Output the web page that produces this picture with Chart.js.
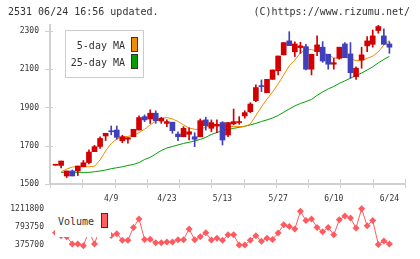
<!DOCTYPE html>
<html>
<head>
<meta charset="utf-8">
<script src="https://cdn.jsdelivr.net/npm/chart.js@4/dist/chart.umd.min.js"></script>
<style>
  body { margin: 0; background: #fff; }
  #wrap { position: relative; width: 420px; height: 259px; font-family: 'DejaVu Sans Mono', monospace; color: #333; }
  canvas { position: absolute; left: 0; top: 0; }
  .t { position: absolute; font-size: 10px; line-height: 12px; white-space: pre; }
  .sw { position: absolute; box-sizing: border-box; border: 1px solid #333; width: 7px; height: 15px; }
  .box { position: absolute; background: #fff; box-sizing: border-box; }
</style>
</head>
<body>
<div id="wrap">
  <canvas id="price" width="420" height="259"></canvas>
  <canvas id="volume" width="420" height="259"></canvas>

  <div class="t" style="left:8px;top:6px;">2531 06/24 16:56 updated.</div>
  <div class="t" style="right:10px;top:6px;">(C)https://www.rizumu.net/</div>

  <div class="box" style="left:65px;top:30px;width:79px;height:48px;border:1px solid #ccc;"></div>
  <div class="t" style="left:40px;width:85px;text-align:right;top:40px;">5-day MA</div>
  <div class="sw" style="left:131px;top:37px;background:#f08c00;"></div>
  <div class="t" style="left:40px;width:85px;text-align:right;top:57px;">25-day MA</div>
  <div class="sw" style="left:131px;top:54px;background:#00a000;"></div>

  <div class="box" style="left:55px;top:203px;width:56px;height:34px;"></div>
  <div class="t" style="left:58px;top:216px;">Volume</div>
  <div class="sw" style="left:101px;top:213px;background:#ff5f5f;"></div>
</div>
<script>
// trading days shown on the chart
const dates = ['3/26','3/27','3/28','3/29','4/1','4/2','4/3','4/4','4/5','4/8',
  '4/9','4/10','4/11','4/12','4/15','4/16','4/17','4/18','4/19','4/22',
  '4/23','4/24','4/25','4/26','4/30','5/1','5/2','5/7','5/8','5/9',
  '5/13','5/14','5/15','5/16','5/17','5/20','5/21','5/22','5/23','5/24',
  '5/27','5/28','5/29','5/30','5/31','6/3','6/4','6/5','6/6','6/7',
  '6/10','6/11','6/12','6/13','6/14','6/17','6/18','6/19','6/20','6/21','6/24'];
const tickDates = ['4/9','4/23','5/13','5/27','6/10','6/24'];

const open  = [1598,1597,1542,1568,1568,1590,1612,1669,1696,1751,1774,1782,1726,1734,1747,1782,1852,1840,1870,1829,
  1817,1823,1761,1747,1760,1747,1747,1835,1791,1803,1821,1756,1814,1821,1856,1878,1936,2010,1977,2047,
  2092,2175,2248,2191,2213,2218,2100,2192,2215,2178,2126,2157,2232,2180,2061,2148,2222,2230,2302,2274,2232];
const high  = [1598,1620,1568,1573,1594,1623,1678,1702,1746,1765,1803,1803,1755,1742,1786,1856,1861,1887,1883,1849,
  1835,1823,1773,1800,1793,1768,1840,1849,1835,1835,1826,1821,1892,1852,1883,1925,2018,2044,2047,2096,
  2169,2239,2296,2243,2241,2230,2178,2274,2244,2178,2157,2215,2239,2239,2113,2215,2270,2305,2331,2311,2244];
const low   = [1598,1584,1534,1542,1544,1590,1605,1669,1686,1727,1757,1734,1716,1713,1747,1782,1826,1817,1817,1817,
  1800,1765,1726,1747,1730,1695,1747,1782,1773,1768,1704,1747,1809,1812,1844,1873,1930,1983,1977,2047,
  2070,2175,2223,2166,2183,2096,2070,2171,2136,2100,2100,2152,2160,2053,2047,2105,2192,2215,2288,2230,2183];
const close = [1598,1620,1568,1542,1594,1611,1667,1695,1738,1765,1773,1744,1747,1742,1786,1847,1835,1870,1831,1844,
  1826,1779,1747,1791,1773,1734,1831,1805,1821,1812,1730,1821,1826,1823,1873,1918,2004,2009,2047,2096,
  2169,2239,2223,2232,2222,2100,2178,2227,2143,2126,2134,2215,2160,2082,2105,2175,2248,2274,2323,2230,2215];

const ma5  = [null,1564,1578,1589,1590,1590,1590,1592,1626,1673,1712,1735,1746,1749,1754,1769,1786,1809,1829,1843,
  1847,1840,1827,1809,1793,1786,1785,1798,1803,1805,1802,1800,1800,1800,1800,1814,1858,1903,1944,1981,
  2023,2070,2117,2148,2185,2203,2203,2194,2187,2175,2159,2159,2164,2154,2145,2145,2157,2168,2190,2227,2250];
const ma25 = [null,1561,1561,1561,1561,1561,1561,1564,1568,1573,1580,1585,1590,1597,1602,1612,1628,1639,1657,1675,
  1688,1696,1704,1712,1718,1725,1733,1744,1759,1769,1779,1785,1791,1796,1802,1809,1817,1827,1835,1845,
  1858,1875,1892,1908,1921,1931,1942,1963,1981,1997,2010,2026,2039,2053,2067,2080,2096,2112,2133,2151,2167];

const volume = [659000,588000,567000,397000,397000,354000,701000,397000,786000,637000,
  595000,637000,482000,482000,780000,978000,503000,510000,425000,425000,
  446000,446000,495000,495000,744000,495000,567000,659000,488000,531000,
  482000,610000,610000,376000,376000,482000,588000,461000,531000,503000,
  652000,844000,801000,744000,1154000,942000,978000,780000,680000,780000,
  610000,957000,1048000,999000,765000,1212000,822000,942000,388000,467000,397000];

const priceTicks = [1500, 1700, 1900, 2100, 2300];
const volumeTicks = [375700, 793750, 1211800];

const UP = '#d20000', DOWN = '#4040bc', AXIS = '#d0d0d0';
Chart.defaults.font.family = "'DejaVu Sans Mono', monospace";
Chart.defaults.color = '#333';

const idx = dates.map((d, i) => i);
const candleColors = idx.map(i => close[i] >= open[i] ? UP : DOWN);
const xMin = -1, xMax = 62.8;

const crossTicks = {
  id: 'crossTicks',
  beforeDatasetsDraw(chart) {
    const { ctx, chartArea: a, scales } = chart;
    ctx.save();
    ctx.strokeStyle = AXIS;
    ctx.lineWidth = 1;
    ctx.beginPath();
    scales.y.ticks.forEach(t => {
      const y = Math.round(scales.y.getPixelForValue(t.value)) + 0.5;
      ctx.moveTo(a.left - 5, y); ctx.lineTo(a.left + 3, y);
    });
    scales.xg.ticks.forEach(t => {
      const x = Math.round(scales.xg.getPixelForValue(t.value)) + 0.5;
      ctx.moveTo(x, a.bottom - 5); ctx.lineTo(x, a.bottom + 4);
    });
    ctx.stroke();
    ctx.restore();
  }
};

new Chart(document.getElementById('price'), {
  type: 'bar',
  data: {
    datasets: [
      { label: 'body', data: idx.map(i => ({ x: i, y: [open[i], close[i]] })),
        backgroundColor: candleColors, barThickness: 5, minBarLength: 1, grouped: false, order: 0 },
      { label: 'wick', data: idx.map(i => ({ x: i, y: [low[i], high[i]] })),
        backgroundColor: candleColors, barThickness: 1, minBarLength: 1, grouped: false, order: 1 },
      { type: 'line', label: '5-day MA', data: idx.map(i => ({ x: i, y: ma5[i] })),
        borderColor: '#f08c00', borderWidth: 1, pointRadius: 0, tension: 0, order: 2 },
      { type: 'line', label: '25-day MA', data: idx.map(i => ({ x: i, y: ma25[i] })),
        borderColor: '#00a000', borderWidth: 1, pointRadius: 0, tension: 0, order: 3 }
    ]
  },
  options: {
    responsive: false,
    animation: false,
    devicePixelRatio: 1,
    layout: { padding: { left: 0, right: 15, top: 25, bottom: 0 }, autoPadding: false },
    plugins: { legend: { display: false }, tooltip: { enabled: false } },
    scales: {
      xg: {
        type: 'linear', axis: 'x', position: 'bottom', weight: 0,
        min: xMin, max: xMax, offset: false,
        ticks: { display: false, stepSize: 5.8 },
        grid: { display: false, drawTicks: false },
        border: { display: true, color: AXIS, width: 2 },
        afterFit: s => { s.height = 0; }
      },
      x: {
        type: 'linear', position: 'bottom', weight: 1,
        min: xMin, max: xMax, offset: false,
        afterBuildTicks: s => { s.ticks = tickDates.map(d => ({ value: dates.indexOf(d) })); },
        ticks: { callback: v => dates[v], font: { size: 8 }, padding: 10, maxRotation: 0, autoSkip: false },
        grid: { display: false, drawTicks: false },
        border: { display: false },
        afterFit: s => { s.height = 75; }
      },
      y: {
        type: 'linear', min: 1500, max: 2331,
        afterBuildTicks: s => { s.ticks = priceTicks.map(v => ({ value: v })); },
        ticks: { font: { size: 8 }, padding: 11, callback: v => String(v) },
        grid: { display: false, drawTicks: false },
        border: { display: true, color: AXIS, width: 2 },
        afterFit: s => { s.width = 50; }
      }
    }
  },
  plugins: [crossTicks]
});

new Chart(document.getElementById('volume'), {
  type: 'line',
  data: {
    datasets: [{
      label: 'Volume', data: idx.map(i => ({ x: i, y: volume[i] })),
      borderColor: '#ff5a5f', backgroundColor: '#ff5a5f', borderWidth: 1,
      pointStyle: 'rectRot', pointRadius: 3.5, pointBorderWidth: 0, tension: 0, clip: false
    }]
  },
  options: {
    responsive: false,
    animation: false,
    devicePixelRatio: 1,
    layout: { padding: { left: 0, right: 15, top: 205, bottom: 7 }, autoPadding: false },
    plugins: { legend: { display: false }, tooltip: { enabled: false } },
    scales: {
      x: { type: 'linear', min: xMin, max: xMax, display: false },
      y: {
        type: 'linear', min: 300000, max: 1300000,
        afterBuildTicks: s => { s.ticks = volumeTicks.map(v => ({ value: v })); },
        ticks: { font: { size: 8 }, padding: 6, callback: v => String(v) },
        grid: { display: false, drawTicks: false },
        border: { display: false },
        afterFit: s => { s.width = 50; }
      }
    }
  }
});
</script>
</body>
</html>
